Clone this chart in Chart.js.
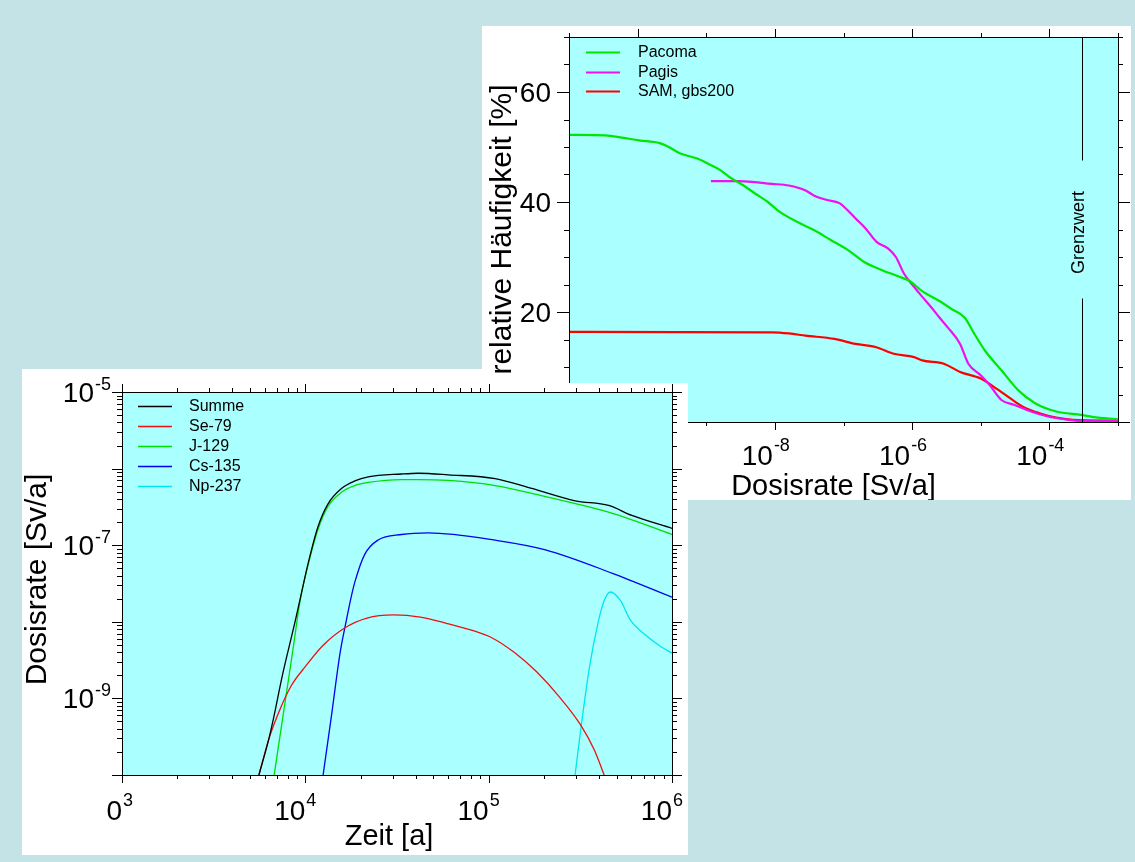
<!DOCTYPE html>
<html>
<head>
<meta charset="utf-8">
<script src="https://cdn.jsdelivr.net/npm/chart.js@4.4.1/dist/chart.umd.min.js"></script>
<style>
  body { margin: 0; width: 1135px; height: 862px; background: #c4e3e6; position: relative; overflow: hidden; }
  canvas { position: absolute; display: block; }
  #chartTop { left: 482px; top: 26px; z-index: 1; }
  #chartBottom { left: 22px; top: 369px; z-index: 2; }
</style>
</head>
<body>
<canvas id="chartTop" width="649" height="474"></canvas>
<canvas id="chartBottom" width="666" height="486"></canvas>
<script>
// oberes Diagramm: relative Häufigkeit über Dosisrate
const dosisPacoma = [1e-11, 3.4e-11, 5.9e-11, 1.05e-10, 2.1e-10, 2.75e-10, 4.2e-10, 7.4e-10, 1.12e-9, 1.6e-9, 2.2e-9, 3.5e-9,
  5.2e-9, 7.9e-9, 1.12e-8, 2.1e-8, 3.7e-8, 6.5e-8, 1.15e-7, 2.0e-7, 3.5e-7, 6.2e-7, 9.3e-7, 1.4e-6, 2.5e-6, 3.8e-6,
  5.8e-6, 8.1e-6, 1.15e-5, 2.0e-5, 3.5e-5, 6.2e-5, 1.26e-4, 2.9e-4, 5.1e-4, 1e-3];
const haeufPacoma = [52.2, 52.1, 51.7, 51.2, 50.7, 50.1, 48.8, 47.9, 46.8, 45.8, 44.5, 43.0,
  41.5, 40.0, 38.4, 36.4, 34.9, 33.1, 31.3, 29.1, 27.7, 26.5, 25.6, 23.8, 22.0, 20.5,
  19.0, 16.0, 13.0, 9.4, 5.8, 3.4, 1.9, 1.3, 0.8, 0.5];

const dosisPagis = [1.17e-9, 3.0e-9, 9.1e-9, 1.6e-8, 2.8e-8, 3.7e-8, 5.6e-8, 8.7e-8, 1.15e-7, 1.5e-7, 2.1e-7, 3.0e-7,
  4.4e-7, 5.8e-7, 7.6e-7, 1.0e-6, 1.4e-6, 1.86e-6, 2.5e-6, 3.3e-6, 5.0e-6, 6.6e-6, 1e-5, 1.35e-5, 2.0e-5, 3.1e-5,
  5.4e-5, 9.5e-5, 1.66e-4, 2.9e-4, 1e-3];
const haeufPagis = [43.8, 43.8, 43.3, 43.0, 42.1, 41.2, 40.4, 39.8, 38.5, 37.0, 35.2, 32.8,
  31.6, 30.0, 27.0, 25.0, 22.8, 21.0, 19.0, 17.2, 14.2, 10.6, 8.5, 6.7, 4.0, 3.1,
  1.9, 1.0, 0.5, 0.2, 0.2];

const dosisSam = [1e-11, 9.1e-9, 1.6e-8, 2.8e-8, 7.4e-8, 1.5e-7, 3.0e-7, 5.4e-7, 1.07e-6, 1.4e-6, 2.9e-6, 5.0e-6,
  1e-5, 1.55e-5, 2.7e-5, 4.1e-5, 7.2e-5, 1.26e-4, 2.2e-4, 1e-3];
const haeufSam = [16.4, 16.3, 16.1, 15.7, 15.1, 14.2, 13.6, 12.4, 11.8, 11.2, 10.6, 9.1,
  7.9, 6.4, 4.3, 2.8, 1.6, 0.8, 0.4, 0.2];

const grenzwert = 3e-4;
const dosisTicks = [1e-10, 1e-8, 1e-6, 1e-4];
const dosisTickExp = ['-10', '-8', '-6', '-4'];
const haeufTicks = [0, 20, 40, 60];

// unteres Diagramm: Dosisrate über Zeit
const zeitSumme = [5580, 6310, 6760, 7460, 8830, 9510, 10350, 11720, 13300, 15740, 18620, 22030, 33500, 41300,
  60260, 108400, 171800, 296500, 450800, 604000, 1e6];
const rateSumme = [1e-10, 2.9e-10, 6.0e-10, 1.9e-9, 1.05e-8, 2.34e-8, 5.75e-8, 1.74e-7, 3.47e-7, 5.5e-7, 6.9e-7, 7.8e-7, 8.5e-7, 8.7e-7,
  8.3e-7, 7.4e-7, 5.5e-7, 3.8e-7, 3.3e-7, 2.45e-7, 1.66e-7];

const zeitSe79 = [5580, 6310, 7260, 8360, 10000, 12360, 16370, 21680, 30340, 42460, 59430, 83180, 104000, 137700,
  182000, 241000, 319200, 377600, 426600];
const rateSe79 = [1e-10, 2.9e-10, 7.1e-10, 1.45e-9, 2.6e-9, 4.8e-9, 8.3e-9, 1.12e-8, 1.23e-8, 1.15e-8, 9.5e-9, 7.6e-9, 6.2e-9, 4.0e-9,
  2.24e-9, 1.07e-9, 4.4e-10, 2.1e-10, 1e-10];

const zeitJ129 = [6760, 7060, 7910, 8590, 9350, 10350, 11720, 13300, 15740, 18620, 22030, 33500, 41300, 60260,
  108400, 204200, 473000, 1e6];
const rateJ129 = [1e-10, 2.0e-10, 1.23e-9, 4.6e-9, 1.85e-8, 5.5e-8, 1.6e-7, 3.2e-7, 4.9e-7, 6.0e-7, 6.6e-7, 7.2e-7, 7.2e-7, 7.0e-7,
  6.0e-7, 4.3e-7, 2.6e-7, 1.38e-7];

const zeitCs135 = [12500, 13840, 15490, 16750, 17780, 18620, 21090, 24950, 33500, 46770, 112000, 204200, 473000, 1e6];
const rateCs135 = [1e-10, 5.6e-10, 4.0e-9, 1.05e-8, 2.1e-8, 3.3e-8, 7.6e-8, 1.17e-7, 1.38e-7, 1.45e-7, 1.15e-7, 8.7e-8, 4.3e-8, 2.1e-8];

const zeitNp237 = [296000, 316000, 355000, 398000, 427000, 461000, 523000, 593000, 698000, 875000, 1e6];
const rateNp237 = [1e-10, 3.5e-10, 2.6e-9, 1.05e-8, 1.9e-8, 2.45e-8, 1.9e-8, 1.05e-8, 7.1e-9, 4.7e-9, 3.9e-9];

const zeitTicks = [1e3, 1e4, 1e5, 1e6];
const zeitTickBase = ['0', '10', '10', '10'];
const zeitTickExp = ['3', '4', '5', '6'];
const rateTicks = [1e-5, 1e-7, 1e-9];
const rateTickExp = ['-5', '-7', '-9'];

const FONT = '"Liberation Sans", Arial, Helvetica, sans-serif';
const PLOT_BG = '#aaffff';
Chart.defaults.color = '#000';
Chart.defaults.font.family = FONT;

function pairs(xs, ys) {
  return xs.map((x, i) => ({ x, y: ys[i] }));
}

// 10 hoch n: Basis links vom Tick, Exponent rechts daneben
function powerX(ctx, base, exp, px, baseline) {
  ctx.textBaseline = 'alphabetic';
  ctx.font = `28px ${FONT}`;
  ctx.textAlign = 'right';
  ctx.fillText(base, px, baseline);
  ctx.font = `18px ${FONT}`;
  ctx.textAlign = 'left';
  ctx.fillText(exp, px + 1, baseline - 14);
}

function powerY(ctx, base, exp, xr, py) {
  ctx.textBaseline = 'alphabetic';
  ctx.font = `18px ${FONT}`;
  ctx.textAlign = 'right';
  ctx.fillText(exp, xr, py - 2);
  const ew = ctx.measureText(exp).width;
  ctx.font = `28px ${FONT}`;
  ctx.fillText(base, xr - ew - 1, py + 10);
}

function title(ctx, text, x, y, size, vertical) {
  ctx.save();
  ctx.translate(x, y);
  if (vertical) ctx.rotate(-Math.PI / 2);
  ctx.font = `${size}px ${FONT}`;
  ctx.textAlign = 'center';
  ctx.textBaseline = 'alphabetic';
  ctx.fillStyle = '#000';
  ctx.fillText(text, 0, 0);
  ctx.restore();
}

function framePlugin(cfg) {
  return {
    id: 'frame',
    beforeDraw(chart) {
      const { ctx, chartArea: a } = chart;
      ctx.save();
      ctx.fillStyle = '#ffffff';
      cfg.paper.forEach((r) => ctx.fillRect(r[0], r[1], r[2], r[3]));
      ctx.fillStyle = PLOT_BG;
      ctx.fillRect(a.left, a.top, a.right - a.left, a.bottom - a.top);
      ctx.restore();
    },
    afterDraw(chart) {
      const { ctx, chartArea: a, scales } = chart;
      const sx = scales.x;
      const sy = scales.y;
      ctx.save();
      if (cfg.extra) cfg.extra(ctx, a, sx, sy);

      ctx.strokeStyle = '#000';
      ctx.lineWidth = 1;
      ctx.beginPath();
      cfg.xMarks.forEach((m) => {
        const p = Math.round(sx.getPixelForValue(m.v)) + 0.5;
        ctx.moveTo(p, a.bottom); ctx.lineTo(p, a.bottom + m.len);
        ctx.moveTo(p, a.top); ctx.lineTo(p, a.top - m.len);
      });
      cfg.yMarks.forEach((m) => {
        const p = Math.round(sy.getPixelForValue(m.v)) + 0.5;
        ctx.moveTo(a.left, p); ctx.lineTo(a.left - m.len, p);
        ctx.moveTo(a.right, p); ctx.lineTo(a.right + m.len, p);
      });
      ctx.stroke();
      ctx.strokeRect(Math.round(a.left) + 0.5, Math.round(a.top) + 0.5,
        Math.round(a.right - a.left), Math.round(a.bottom - a.top));

      ctx.fillStyle = '#000';
      cfg.labels(ctx, a, sx, sy);

      const L = cfg.legend;
      ctx.font = `${L.size}px ${FONT}`;
      ctx.textAlign = 'left';
      ctx.textBaseline = 'middle';
      chart.data.datasets.forEach((ds, i) => {
        const yy = Math.round(a.top + L.top + i * L.step) + 0.5;
        ctx.strokeStyle = ds.borderColor;
        ctx.lineWidth = L.lineWidth;
        ctx.beginPath();
        ctx.moveTo(a.left + L.x1, yy);
        ctx.lineTo(a.left + L.x2, yy);
        ctx.stroke();
        ctx.fillStyle = '#000';
        ctx.fillText(ds.label, a.left + L.tx, yy);
      });
      ctx.restore();
    },
  };
}

// Tickmarken
const dosisMarks = [];
for (let e = -11; e <= -3; e++) dosisMarks.push({ v: Math.pow(10, e), len: e % 2 === 0 ? 8 : 4 });
const haeufMarks = [];
for (let v = 0; v <= 70; v += 5) haeufMarks.push({ v, len: v % 20 === 0 ? 12 : 5 });
const zeitMarks = [];
for (let e = 3; e <= 6; e++) {
  zeitMarks.push({ v: Math.pow(10, e), len: 8 });
  if (e < 6) for (let k = 2; k <= 9; k++) zeitMarks.push({ v: k * Math.pow(10, e), len: 4 });
}
const rateMarks = [];
for (let e = -10; e <= -5; e++) {
  rateMarks.push({ v: Math.pow(10, e), len: 10 });
  if (e < -5) for (let k = 2; k <= 9; k++) rateMarks.push({ v: k * Math.pow(10, e), len: 5 });
}

const hiddenAxis = { grid: { display: false }, border: { display: false }, ticks: { display: false } };

new Chart(document.getElementById('chartTop'), {
  type: 'line',
  data: {
    datasets: [
      { label: 'Pacoma', data: pairs(dosisPacoma, haeufPacoma), borderColor: '#00e600', borderWidth: 2.2 },
      { label: 'Pagis', data: pairs(dosisPagis, haeufPagis), borderColor: '#ee11ee', borderWidth: 2.2 },
      { label: 'SAM, gbs200', data: pairs(dosisSam, haeufSam), borderColor: '#ff0000', borderWidth: 2.2 },
    ],
  },
  options: {
    responsive: false,
    animation: false,
    elements: { point: { radius: 0 }, line: { cubicInterpolationMode: 'monotone' } },
    layout: { padding: { top: 11, right: 13, left: 0, bottom: 0 } },
    plugins: { legend: { display: false }, tooltip: { enabled: false } },
    scales: {
      x: { type: 'logarithmic', min: 1e-11, max: 1e-3, afterFit: (s) => { s.height = 78; }, ...hiddenAxis },
      y: { type: 'linear', min: 0, max: 70, afterFit: (s) => { s.width = 87; }, ...hiddenAxis },
    },
  },
  plugins: [framePlugin({
    paper: [[0, 0, 649, 474]],
    xMarks: dosisMarks,
    yMarks: haeufMarks,
    legend: { size: 16, top: 15, step: 19.7, x1: 17, x2: 51, tx: 69, lineWidth: 2 },
    labels(ctx, a, sx, sy) {
      dosisTicks.forEach((v, i) => powerX(ctx, '10', dosisTickExp[i], sx.getPixelForValue(v) - 2, a.bottom + 43));
      ctx.font = `28px ${FONT}`;
      ctx.textAlign = 'right';
      ctx.textBaseline = 'alphabetic';
      haeufTicks.forEach((v) => ctx.fillText(String(v), a.left - 18, sy.getPixelForValue(v) + 10));
      title(ctx, 'Dosisrate [Sv/a]', (a.left + a.right) / 2 - 10, a.bottom + 73, 29, false);
      title(ctx, 'relative Häufigkeit [%]', 29, (a.top + a.bottom) / 2, 30, true);
    },
    extra(ctx, a, sx) {
      // Grenzwert-Linie mit Beschriftung
      const gx = Math.round(sx.getPixelForValue(grenzwert)) + 0.5;
      const mid = (a.top + a.bottom) / 2 + 3;
      ctx.strokeStyle = '#000';
      ctx.lineWidth = 1;
      ctx.beginPath();
      ctx.moveTo(gx, a.top); ctx.lineTo(gx, mid - 72);
      ctx.moveTo(gx, mid + 66); ctx.lineTo(gx, a.bottom);
      ctx.stroke();
      ctx.save();
      ctx.translate(gx - 3, mid);
      ctx.rotate(-Math.PI / 2);
      ctx.fillStyle = '#000';
      ctx.font = `18px ${FONT}`;
      ctx.textAlign = 'center';
      ctx.textBaseline = 'middle';
      ctx.fillText('Grenzwert', 0, 0);
      ctx.restore();
    },
  })],
});

new Chart(document.getElementById('chartBottom'), {
  type: 'line',
  data: {
    datasets: [
      { label: 'Summe', data: pairs(zeitSumme, rateSumme), borderColor: '#000000' },
      { label: 'Se-79', data: pairs(zeitSe79, rateSe79), borderColor: '#ee1111' },
      { label: 'J-129', data: pairs(zeitJ129, rateJ129), borderColor: '#00dd00' },
      { label: 'Cs-135', data: pairs(zeitCs135, rateCs135), borderColor: '#0000ee' },
      { label: 'Np-237', data: pairs(zeitNp237, rateNp237), borderColor: '#00e5f0' },
    ],
  },
  options: {
    responsive: false,
    animation: false,
    elements: { point: { radius: 0 }, line: { borderWidth: 1.3, cubicInterpolationMode: 'monotone' } },
    layout: { padding: { top: 23, right: 16, left: 0, bottom: 0 } },
    plugins: { legend: { display: false }, tooltip: { enabled: false } },
    scales: {
      x: { type: 'logarithmic', min: 1e3, max: 1e6, afterFit: (s) => { s.height = 80; }, ...hiddenAxis },
      y: { type: 'logarithmic', min: 1e-10, max: 1e-5, afterFit: (s) => { s.width = 100; }, ...hiddenAxis },
    },
  },
  plugins: [framePlugin({
    // obere rechte Ecke bleibt frei, dort liegt das obere Diagramm
    paper: [[0, 14, 666, 472], [0, 0, 460, 14]],
    xMarks: zeitMarks,
    yMarks: rateMarks,
    legend: { size: 16, top: 14, step: 20, x1: 16, x2: 50, tx: 67, lineWidth: 1.3 },
    labels(ctx, a, sx, sy) {
      zeitTicks.forEach((v, i) => powerX(ctx, zeitTickBase[i], zeitTickExp[i], sx.getPixelForValue(v), a.bottom + 45));
      rateTicks.forEach((v, i) => powerY(ctx, '10', rateTickExp[i], a.left - 11, sy.getPixelForValue(v)));
      title(ctx, 'Zeit [a]', (a.left + a.right) / 2 - 8, a.bottom + 70, 29, false);
      title(ctx, 'Dosisrate [Sv/a]', 24, (a.top + a.bottom) / 2 - 4, 30, true);
    },
  })],
});
</script>
</body>
</html>
